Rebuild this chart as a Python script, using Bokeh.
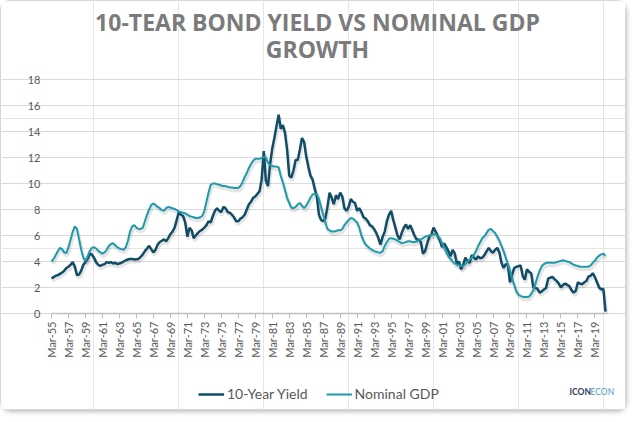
import math
import numpy as np
from bokeh.plotting import figure
from bokeh.models import (ColumnDataSource, FixedTicker, Legend, LegendItem, Label,
                          Range1d, LinearAxis, Grid)
from bokeh.embed import file_html
from bokeh.resources import INLINE

# Quarterly data, first quarter = Mar-55
start_year = 1955

yield_10y = [
    2.7, 2.8, 2.9, 2.95,      # 1955
    3.05, 3.15, 3.3, 3.5,     # 1956
    3.6, 3.75, 3.95, 3.6,     # 1957
    2.95, 3.0, 3.3, 3.75,     # 1958
    3.95, 4.2, 4.6, 4.55,     # 1959
    4.3, 3.95, 3.75, 3.65,    # 1960
    3.75, 3.8, 3.95, 3.9,     # 1961
    3.95, 3.85, 3.9, 3.8,     # 1962
    3.85, 3.9, 4.0, 4.1,      # 1963
    4.15, 4.2, 4.2, 4.15,     # 1964
    4.18, 4.2, 4.35, 4.55,    # 1965
    4.8, 5.0, 5.2, 4.95,      # 1966
    4.7, 4.9, 5.3, 5.5,       # 1967
    5.6, 5.7, 5.55, 5.8,      # 1968
    6.1, 6.3, 6.6, 7.2,       # 1969
    7.8, 7.6, 7.5, 7.0,       # 1970
    5.9, 6.6, 6.4, 5.8,       # 1971
    6.0, 6.2, 6.35, 6.45,     # 1972
    6.6, 6.8, 7.1, 7.0,       # 1973
    7.5, 7.9, 8.1, 7.9,       # 1974
    7.8, 8.2, 8.1, 7.8,       # 1975
    7.75, 7.6, 7.4, 7.1,      # 1976
    7.1, 7.3, 7.4, 7.6,       # 1977
    8.0, 8.4, 8.6, 8.9,       # 1978
    9.0, 9.2, 9.4, 10.3,      # 1979
    12.5, 10.2, 9.8, 11.5,    # 1980
    12.7, 13.5, 14.4, 15.3,   # 1981
    14.2, 14.5, 13.9, 12.6,   # 1982
    10.6, 10.45, 11.0, 11.8,  # 1983
    11.8, 12.6, 13.5, 13.2,   # 1984
    12.1, 11.3, 10.6, 10.3,   # 1985
    9.6, 9.0, 7.6, 7.2,       # 1986
    7.1, 7.3, 8.2, 9.3,       # 1987
    8.9, 8.4, 9.1, 8.8,       # 1988
    9.3, 9.0, 8.1, 7.9,       # 1989
    8.2, 8.8, 8.6, 8.5,       # 1990
    7.9, 8.1, 7.8, 7.4,       # 1991
    7.3, 7.1, 6.8, 6.7,       # 1992
    6.5, 6.2, 5.8, 5.3,       # 1993
    5.9, 6.3, 7.1, 7.6,       # 1994
    7.9, 7.2, 6.6, 6.0,       # 1995
    5.7, 6.2, 6.6, 6.85,      # 1996
    6.5, 6.8, 6.4, 6.0,       # 1997
    5.7, 5.7, 5.5, 4.6,       # 1998
    4.8, 5.4, 5.9, 6.1,       # 1999
    6.6, 6.3, 5.95, 5.6,      # 2000
    5.1, 5.4, 5.1, 4.8,       # 2001
    4.4, 4.9, 4.6, 3.8,       # 2002
    4.0, 3.4, 3.8, 4.3,       # 2003
    4.0, 3.9, 4.5, 4.3,       # 2004
    4.15, 4.4, 4.25, 4.3,     # 2005
    4.5, 4.8, 5.05, 4.8,      # 2006
    4.67, 4.9, 5.05, 4.7,     # 2007
    3.9, 3.5, 3.8, 3.75,      # 2008
    2.4, 3.0, 3.5, 3.6,       # 2009
    3.64, 3.7, 2.9, 2.6,      # 2010
    3.4, 3.2, 3.1, 2.0,       # 2011
    1.97, 1.9, 1.6, 1.7,      # 2012
    1.85, 1.97, 2.7, 2.75,    # 2013
    2.82, 2.65, 2.5, 2.3,     # 2014
    2.0, 2.2, 2.3, 2.2,       # 2015
    2.1, 1.8, 1.6, 1.75,      # 2016
    2.4, 2.3, 2.25, 2.4,      # 2017
    2.5, 2.85, 2.9, 3.1,      # 2018
    2.8, 2.4, 2.0, 1.85,      # 2019
    1.9, 0.15,                # 2020
]

nominal_gdp = [
    4.0, 4.2, 4.5, 4.8,       # 1955
    5.05, 4.95, 4.7, 4.65,    # 1956
    5.1, 5.7, 6.3, 6.7,       # 1957
    6.5, 5.7, 4.9, 4.3,       # 1958
    4.05, 4.4, 4.8, 5.05,     # 1959
    5.1, 5.0, 4.85, 4.7,      # 1960
    4.6, 4.7, 4.9, 5.2,       # 1961
    5.35, 5.4, 5.25, 5.1,     # 1962
    5.0, 4.95, 4.9, 5.1,      # 1963
    5.6, 6.3, 6.7, 6.8,       # 1964
    6.6, 6.5, 6.5, 6.6,       # 1965
    7.1, 7.6, 8.0, 8.35,      # 1966
    8.45, 8.35, 8.2, 8.1,     # 1967
    7.95, 7.9, 8.1, 8.2,      # 1968
    8.15, 8.1, 8.05, 7.95,    # 1969
    7.85, 7.8, 7.75, 7.7,     # 1970
    7.6, 7.5, 7.45, 7.4,      # 1971
    7.35, 7.35, 7.4, 7.5,     # 1972
    7.9, 8.6, 9.3, 9.9,       # 1973
    10.0, 10.0, 9.95, 9.9,    # 1974
    9.85, 9.8, 9.8, 9.75,     # 1975
    9.7, 9.7, 9.65, 9.65,     # 1976
    9.65, 9.8, 10.1, 10.5,    # 1977
    10.8, 11.2, 11.5, 11.75,  # 1978
    11.9, 11.9, 11.9, 11.95,  # 1979
    12.05, 12.0, 11.6, 11.4,  # 1980
    11.35, 11.3, 11.3, 11.25, # 1981
    10.6, 10.1, 9.5, 8.9,     # 1982
    8.5, 8.15, 8.1, 8.2,      # 1983
    8.4, 8.5, 8.3, 8.1,       # 1984
    8.3, 8.6, 8.9, 9.15,      # 1985
    9.2, 9.2, 8.8, 8.2,       # 1986
    7.6, 7.0, 6.5, 6.4,       # 1987
    6.3, 6.3, 6.35, 6.4,      # 1988
    6.4, 6.5, 6.8, 7.0,       # 1989
    7.2, 7.35, 7.3, 7.15,     # 1990
    7.0, 6.6, 6.0, 5.6,       # 1991
    5.3, 5.15, 5.0, 4.9,      # 1992
    4.8, 4.75, 4.7, 4.68,     # 1993
    4.8, 5.2, 5.5, 5.75,      # 1994
    5.8, 5.75, 5.7, 5.6,      # 1995
    5.5, 5.4, 5.45, 5.5,      # 1996
    5.56, 5.55, 5.5, 5.5,     # 1997
    5.55, 5.65, 5.7, 5.8,     # 1998
    5.9, 5.95, 6.0, 6.05,     # 1999
    6.1, 6.1, 5.95, 5.8,      # 2000
    5.4, 5.1, 4.7, 4.4,       # 2001
    4.2, 4.0, 3.85, 3.75,     # 2002
    3.7, 3.65, 3.65, 3.8,     # 2003
    4.0, 4.15, 4.3, 4.5,      # 2004
    4.8, 5.2, 5.5, 5.8,       # 2005
    5.95, 6.2, 6.45, 6.5,     # 2006
    6.35, 6.2, 5.9, 5.6,      # 2007
    5.2, 4.8, 4.3, 3.8,       # 2008
    3.3, 2.7, 2.2, 1.7,       # 2009
    1.45, 1.35, 1.28, 1.27,   # 2010
    1.27, 1.3, 1.5, 1.8,      # 2011
    2.3, 2.85, 3.3, 3.65,     # 2012
    3.8, 3.9, 3.9, 3.9,       # 2013
    3.9, 3.9, 3.95, 4.0,      # 2014
    4.05, 4.1, 4.05, 4.0,     # 2015
    3.95, 3.85, 3.75, 3.7,    # 2016
    3.65, 3.6, 3.6, 3.6,      # 2017
    3.6, 3.6, 3.7, 3.9,       # 2018
    4.05, 4.3, 4.45, 4.55,    # 2019
    4.6, 4.45,                # 2020
]

title_lines = ["10-TEAR BOND YIELD VS NOMINAL GDP", "GROWTH"]
series_names = ["10-Year Yield", "Nominal GDP"]
tick_years = list(range(1955, 2020, 2))
tick_labels = ["Mar-%02d" % (y % 100) for y in tick_years]
y_ticks = list(range(0, 19, 2))
y_min, y_max = 0, 18

YIELD_COLOR = "#114d66"
GDP_COLOR = "#1e9aaa"
TEXT_COLOR = "#595959"
TITLE_COLOR = "#7b7b7b"

# canvas geometry (pixels)
W, H = 626, 410
PL, PR, PT, PB = 50, 22, 78, 98   # plot area insets inside the card

n = len(nominal_gdp)
assert len(yield_10y) == n
t = start_year + np.arange(n) / 4.0
x0, x1 = start_year, float(t[-1])
yv = np.array(yield_10y)
gv = np.array(nominal_gdp)

# ranges chosen so the data area sits at the insets while the frame fills the card
xs = (x1 - x0) / (W - PL - PR)
ys = (y_max - y_min) / (H - PT - PB)
x_range = Range1d(x0 - PL * xs, x1 + PR * xs)
y_range = Range1d(y_min - PB * ys, y_max + PT * ys)

src = ColumnDataSource(dict(
    t=t, y=yv, g=gv,
    ts=t + 0.12, ys=yv - 0.2, gs=gv - 0.2,
))

p = figure(width=W, height=H, output_backend="svg", toolbar_location=None,
           x_range=x_range, y_range=y_range,
           x_axis_location=None, y_axis_location=None,
           min_border_left=0, min_border_right=0, min_border_top=0, min_border_bottom=0)
p.outline_line_color = None
p.background_fill_color = "white"
p.border_fill_color = "white"
p.styles = {"border": "1px solid #d6d6d6", "border-radius": "10px",
            "box-shadow": "1px 2px 4px rgba(0,0,0,0.25)"}

# horizontal gridlines across the plot area only
p.add_layout(Grid(dimension=1, ticker=FixedTicker(ticks=y_ticks), bounds=(x0, x1),
                  grid_line_color="#d9d9d9", grid_line_width=1))

# soft shadows under the lines
p.line("ts", "gs", source=src, line_color="black", line_alpha=0.10, line_width=3.5)
p.line("ts", "ys", source=src, line_color="black", line_alpha=0.10, line_width=3.5)

r_yield = p.line("t", "y", source=src, line_color=YIELD_COLOR, line_width=2.5)
r_gdp = p.line("t", "g", source=src, line_color=GDP_COLOR, line_width=2)

# axes fixed inside the frame
yaxis = LinearAxis(fixed_location=x0, ticker=FixedTicker(ticks=y_ticks),
                   bounds=(y_min, y_max))
yaxis.axis_line_color = None
yaxis.major_tick_line_color = None
yaxis.major_tick_out = 0
yaxis.major_tick_in = 0
yaxis.minor_tick_line_color = None
yaxis.major_label_text_font = "Lato"
yaxis.major_label_text_font_size = "11px"
yaxis.major_label_text_color = TEXT_COLOR
yaxis.major_label_standoff = 11
p.add_layout(yaxis, "left")

xaxis = LinearAxis(fixed_location=y_min, ticker=FixedTicker(ticks=tick_years),
                   bounds=(x0, x1))
xaxis.major_label_overrides = {yr: lab for yr, lab in zip(tick_years, tick_labels)}
xaxis.major_label_orientation = math.pi / 2
xaxis.axis_line_color = "#bfbfbf"
xaxis.axis_line_width = 1.5
xaxis.major_tick_line_color = "#bfbfbf"
xaxis.major_tick_out = 5
xaxis.major_tick_in = 0
xaxis.minor_tick_line_color = None
xaxis.major_label_text_font = "Lato"
xaxis.major_label_text_font_size = "11px"
xaxis.major_label_text_color = TEXT_COLOR
xaxis.major_label_standoff = 3
p.add_layout(xaxis, "below")

# two-line title
for txt, yy in zip(title_lines, [H - 20, H - 47]):
    p.add_layout(Label(x=316, y=yy, x_units="screen", y_units="screen", text=txt,
                       text_align="center", text_baseline="middle",
                       text_font="Open Sans", text_font_size="23px",
                       text_font_style="bold", text_color=TITLE_COLOR))

legend = Legend(items=[LegendItem(label=series_names[0], renderers=[r_yield]),
                       LegendItem(label=series_names[1], renderers=[r_gdp])],
                orientation="horizontal", location=(197, 9),
                label_text_font="Lato", label_text_font_size="14px",
                label_text_color=TEXT_COLOR, border_line_color=None,
                background_fill_alpha=0, glyph_width=26, glyph_height=16,
                label_standoff=3, spacing=18, margin=0, padding=4)
p.add_layout(legend, "center")

# logo
p.add_layout(Label(x=568, y=20, x_units="screen", y_units="screen", text="ICON",
                   text_font="Lato", text_font_size="8.5px", text_font_style="bold",
                   text_color="#1f3f60", text_baseline="middle"))
p.add_layout(Label(x=589, y=20, x_units="screen", y_units="screen", text="ECON",
                   text_font="Lato", text_font_size="8.5px",
                   text_color="#4f9fc0", text_baseline="middle"))

open("out.html", "w").write(file_html(p, INLINE))
